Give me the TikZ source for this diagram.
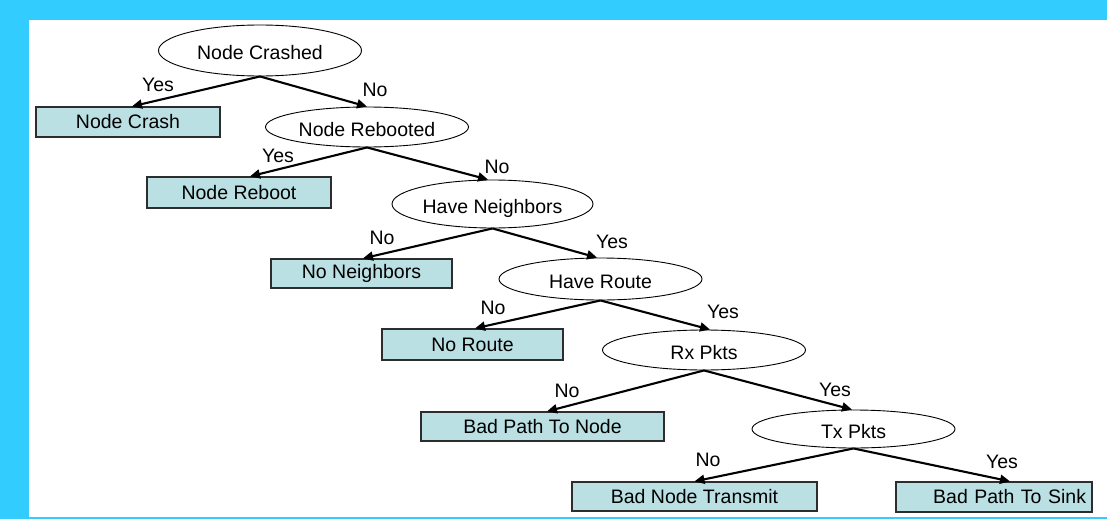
\documentclass[tikz,border=0pt]{standalone}
\usepackage{fontspec}
\setmainfont{Liberation Sans}
\usetikzlibrary{shapes.geometric,arrows.meta}
\definecolor{frame}{RGB}{51,204,255}
\definecolor{boxfill}{RGB}{186,224,227}
\definecolor{boxline}{RGB}{45,45,45}
\begin{document}
\begin{tikzpicture}[x=1pt,y=-1pt,
  every node/.style={font=\fontsize{19.5}{22}\selectfont},
  test/.style={ellipse,draw=black,line width=0.9pt,fill=white,inner sep=0pt,
    minimum width=203pt,text height=18pt,text depth=0pt},
  outcome/.style={rectangle,draw=boxline,line width=1.3pt,fill=boxfill,inner sep=0pt,minimum height=30pt},
  branch/.style={line width=2.1pt,-{Triangle[length=10pt,width=9pt]}},
  answer/.style={inner sep=0pt}]
\useasboundingbox (0,0) rectangle (1107,519);
% frame and page
\fill[frame] (0,0) rectangle (1107,519);
\fill[white] (29,20) rectangle (1107,517);

% decision tests
\node[test,minimum height=51pt] (q1) at (260,50.5) {Node Crashed};
\node[test,minimum height=40pt] (q2) at (367,127) {Node Rebooted};
\node[test,minimum height=48pt,minimum width=201pt] (q3) at (492.5,204) {Have Neighbors};
\node[test,minimum height=42pt] (q4) at (600.5,279) {Have Route};
\node[test,minimum height=40pt] (q5) at (704,350) {Rx Pkts};
\node[test,minimum height=38pt] (q6) at (853.5,429) {Tx Pkts};

% diagnoses
\node[outcome,minimum width=184pt] (r1) at (128,122) {Node Crash};
\node[outcome,minimum width=184pt,minimum height=31pt] (r2) at (239,192.5) {Node Reboot};
\node[outcome,minimum width=181pt,minimum height=29pt] (r3) at (361.5,273.5) {No Neighbors};
\node[outcome,minimum width=181pt,minimum height=31pt] (r4) at (472.5,344.5) {No Route};
\node[outcome,minimum width=243pt,minimum height=29pt] (r5) at (542.5,426.5) {Bad Path To Node};
\node[outcome,minimum width=245pt,minimum height=29pt] (r6) at (694.5,496.5) {Bad Node Transmit};
\node[outcome,minimum height=30pt,text width=184pt,align=right,inner xsep=6pt] (r7) at (994,497) {Bad Path To Sink};

% branches
\draw[branch] (q1.south) -- ([xshift=4pt]r1.north);
\draw[branch] (q1.south) -- (q2.north);
\draw[branch] (q2.south) -- ([xshift=11pt]r2.north);
\draw[branch] (q2.south) -- ([xshift=-4.5pt]q3.north);
\draw[branch] (q3.south) -- ([xshift=1.5pt]r3.north);
\draw[branch] (q3.south) -- ([xshift=-3.5pt]q4.north);
\draw[branch] (q4.south) -- ([xshift=2.5pt]r4.north);
\draw[branch] (q4.south) -- ([xshift=6pt]q5.north);
\draw[branch] (q5.south) -- ([xshift=4.5pt]r5.north);
\draw[branch] (q5.south) -- ([xshift=-1.5pt]q6.north);
\draw[branch] (q6.south) -- (r6.north);
\draw[branch] (q6.south) -- ([xshift=16pt]r7.north);

% branch answers
\node[answer] (y1) at (158,85) {Yes};
\node[answer] (n1) at (375,90) {No};
\node[answer] (y2) at (278,156) {Yes};
\node[answer] (n2) at (497,167) {No};
\node[answer] (n3) at (382,238) {No};
\node[answer] (y3) at (612,242) {Yes};
\node[answer] (n4) at (493,308) {No};
\node[answer] (y4) at (723,312) {Yes};
\node[answer] (n5) at (567,391) {No};
\node[answer] (y5) at (835,390) {Yes};
\node[answer] (n6) at (708,460) {No};
\node[answer] (y6) at (1002,462) {Yes};
\end{tikzpicture}
\end{document}
